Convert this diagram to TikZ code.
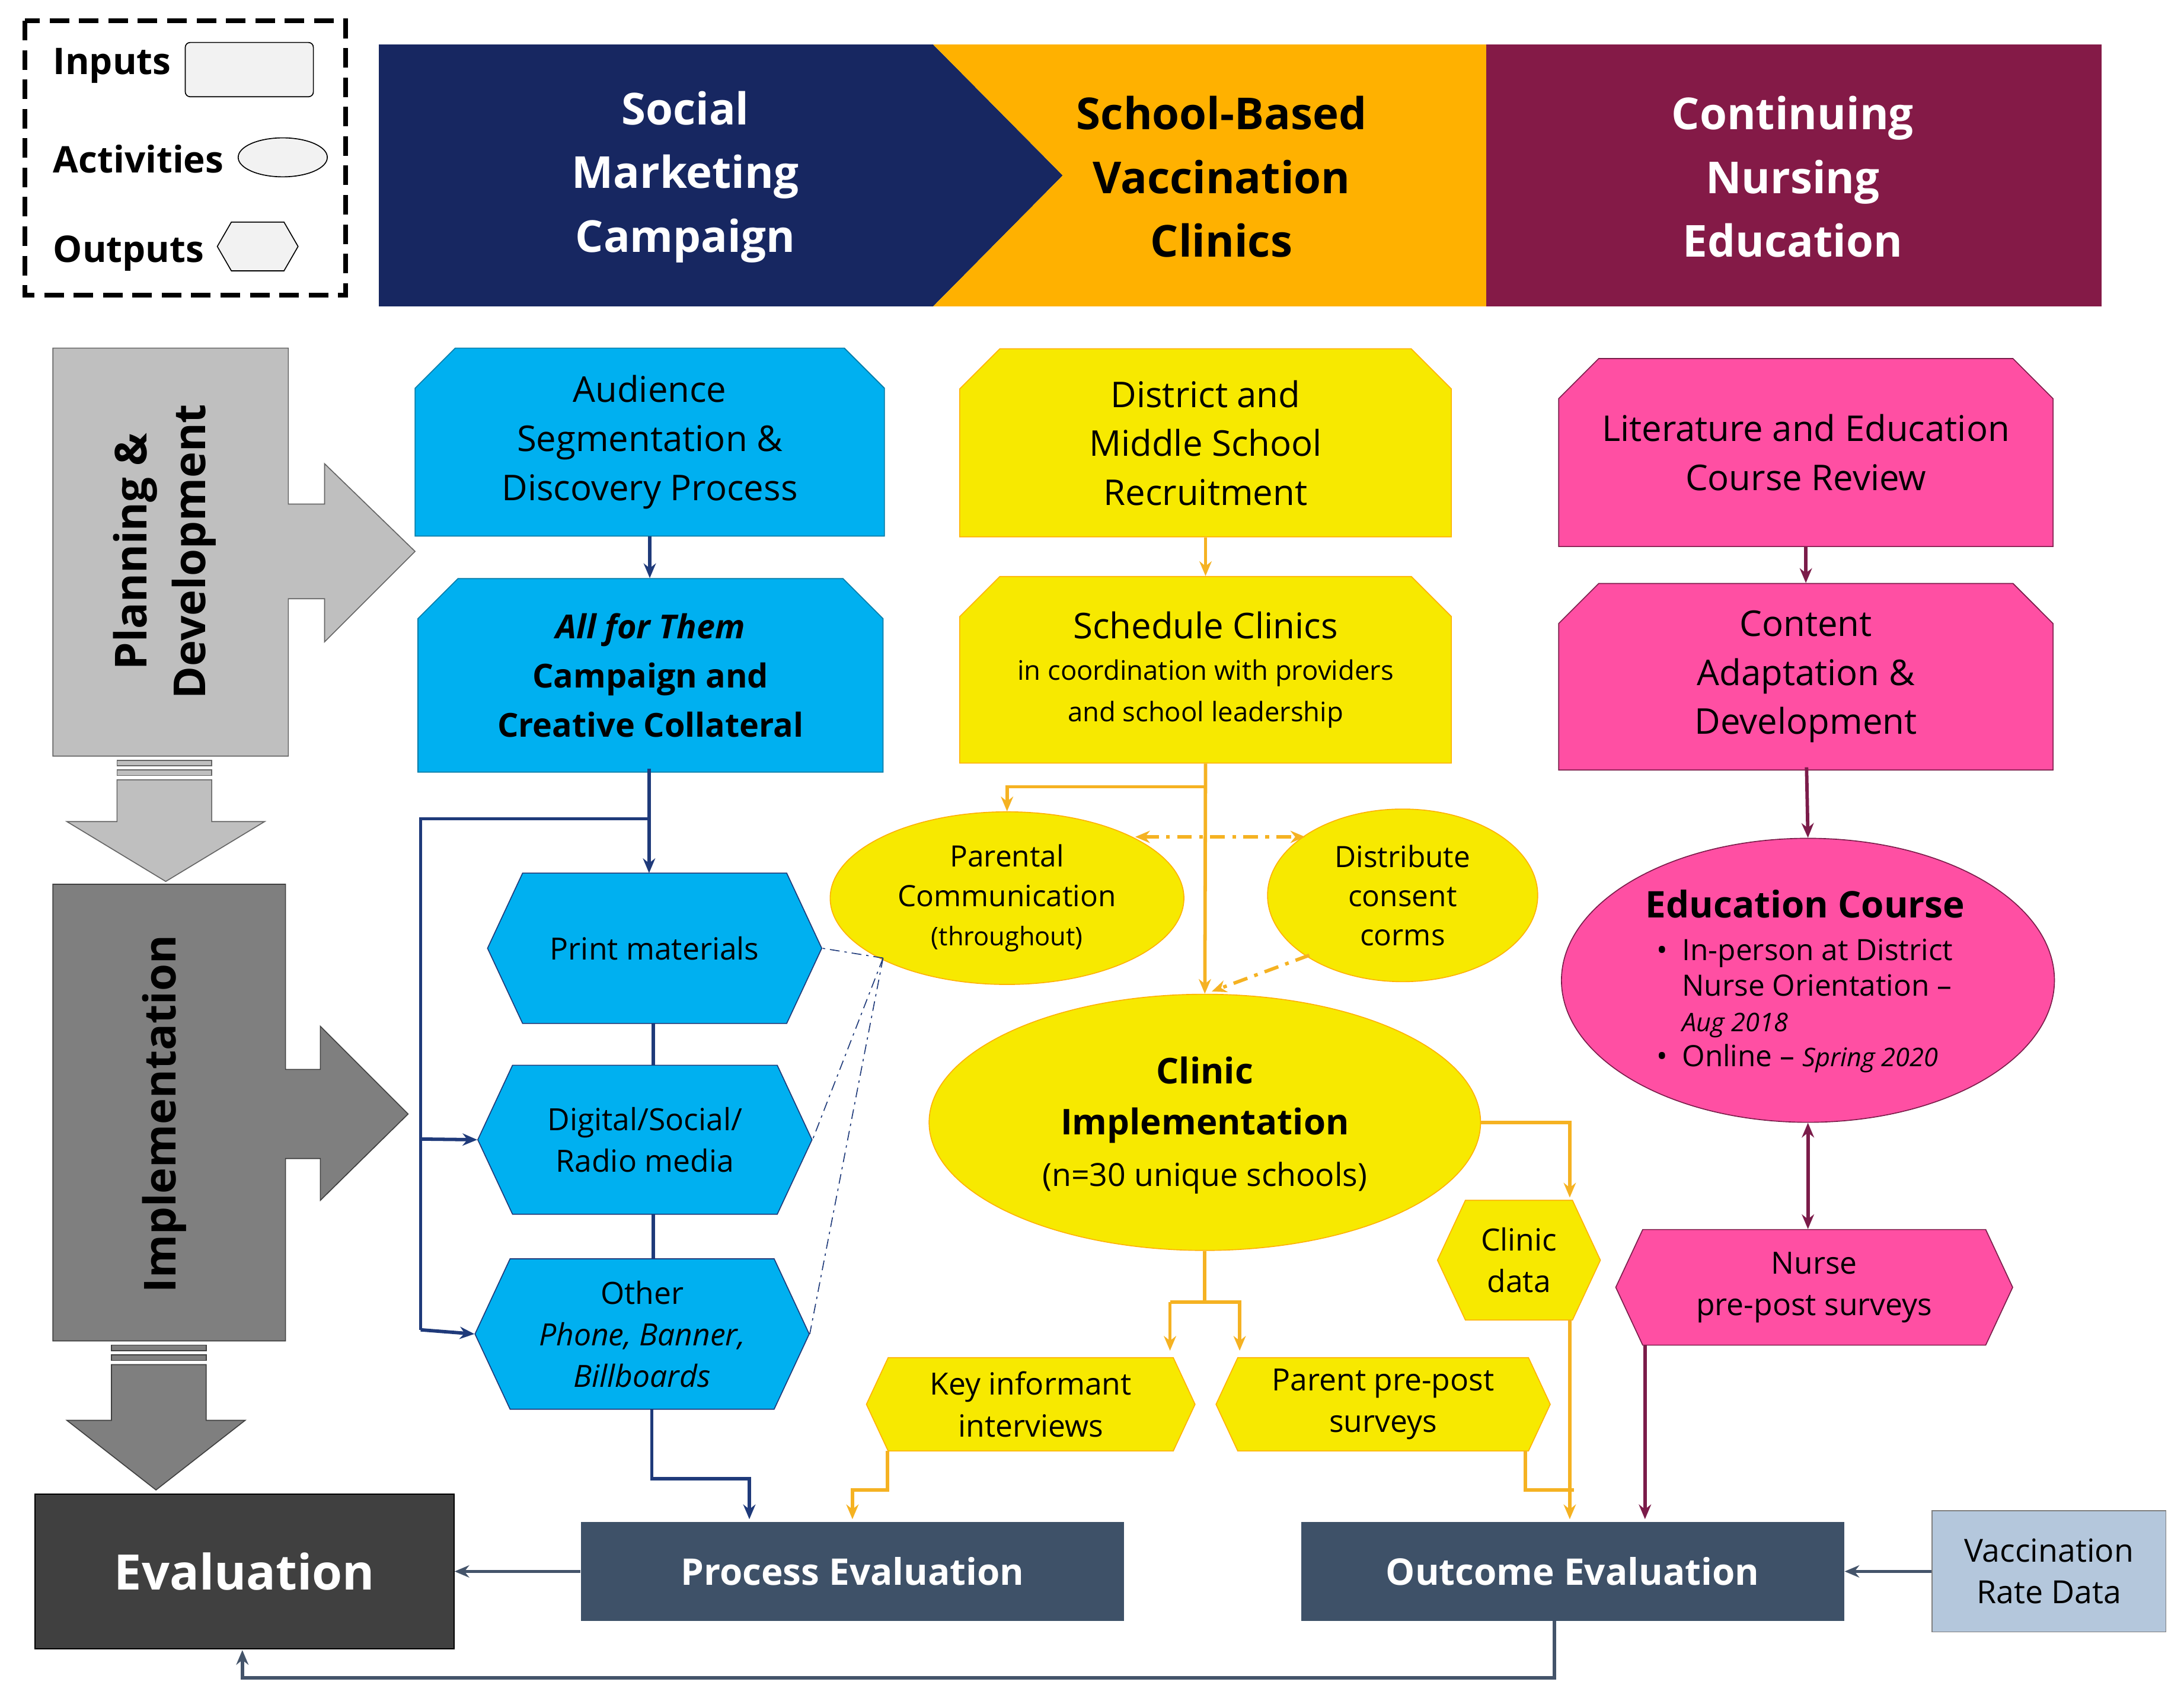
\documentclass[tikz,border=0pt]{standalone}
\usepackage{fontspec}
\setmainfont{Open Sans}
\usetikzlibrary{shapes.misc,shapes.geometric,shapes.symbols,arrows.meta}
\definecolor{navy}{HTML}{172761}
\definecolor{orng}{HTML}{FFB100}
\definecolor{maroon}{HTML}{841A47}
\definecolor{gA}{HTML}{BFBFBF}
\definecolor{gB}{HTML}{7F7F7F}
\definecolor{gC}{HTML}{404040}
\definecolor{blu}{HTML}{00B0F0}
\definecolor{yel}{HTML}{F7E900}
\definecolor{pnk}{HTML}{FF4FA3}
\definecolor{slate}{HTML}{3E5168}
\definecolor{lblue}{HTML}{B4C7DC}
\definecolor{lor}{HTML}{F5B222}
\definecolor{lnav}{HTML}{1F3A7A}
\definecolor{lmar}{HTML}{7B1C4A}
\definecolor{lgr}{HTML}{44546A}
\tikzset{
 inp/.style={chamfered rectangle,chamfered rectangle corners={north west,north east},chamfered rectangle xsep=0.45cm,inner sep=0pt,align=center,font=\fontsize{14.5}{20}\selectfont},
 hex/.style={signal,signal to=east and west,signal pointer angle=130,inner sep=0pt,align=center,font=\fontsize{12.5}{17}\selectfont},
 act/.style={ellipse,inner sep=0pt},
 acttxt/.style={align=center,font=\fontsize{12}{16}\selectfont},
 ar/.style={-{Stealth[length=6pt,width=5pt]}},
 lo/.style={lor,line width=1.4pt},
 ln/.style={lnav,line width=1.4pt},
 lm/.style={lmar,line width=1.4pt},
 lg/.style={lgr,line width=1.4pt},
 head/.style={white,align=center,font=\fontsize{18}{26}\selectfont\bfseries},
 evb/.style={fill=slate,minimum width=7.8cm,minimum height=1.42cm,text=white,font=\fontsize{15}{18}\selectfont\bfseries},
}
\begin{document}
\begin{tikzpicture}[x=0.02cm,y=-0.02cm]
\useasboundingbox (0,0) rectangle (1568,1219);
% legend
\draw[line width=2pt,dash pattern=on 8pt off 4pt] (18,15) rectangle (248,212);
\node[font=\fontsize{15}{18}\selectfont\bfseries,anchor=west] (lgi) at (32,47) {Inputs};
\node[draw,fill=white!95!black,rounded corners=2pt,minimum width=1.84cm,minimum height=0.78cm] (lgr) at (179,50) {};
\node[font=\fontsize{15}{18}\selectfont\bfseries,anchor=west] (lga) at (32,114) {Activities};
\node[draw,fill=white!95!black,ellipse,minimum width=1.28cm,minimum height=0.56cm,inner sep=0pt] (lge) at (203,113) {};
\node[font=\fontsize{15}{18}\selectfont\bfseries,anchor=west] (lgo) at (32,182) {Outputs};
\node[draw,fill=white!95!black,signal,signal to=east and west,signal pointer angle=120,minimum width=1.16cm,minimum height=0.7cm,inner sep=0pt] (lgh) at (185,177) {};
% header
\fill[navy] (272,32) -- (670,32) -- (763,126) -- (670,220) -- (272,220) -- cycle;
\fill[orng] (670,32) -- (1067,32) -- (1067,220) -- (670,220) -- (763,126) -- cycle;
\fill[maroon] (1067,32) rectangle (1509,220);
\node[head] (h1) at (492,127) {Social\\Marketing\\Campaign};
\node[head,text=black] (h2) at (877,127) {School-Based\\Vaccination\\Clinics};
\node[head] (h3) at (1287,127) {Continuing\\Nursing\\Education};
% left arrows
\draw[gB!80!black,fill=gA] (38,250) -- (207,250) -- (207,362) -- (233,362) -- (233,333) -- (298,396) -- (233,461) -- (233,430) -- (207,430) -- (207,543) -- (38,543) -- cycle;
\node[rotate=90,align=center,font=\fontsize{18}{24}\selectfont\bfseries] (pd) at (118,396) {Planning \&\\Development};
\draw[gB!80!black,fill=gA] (84,546) rectangle (152,550);
\draw[gB!80!black,fill=gA] (84,553) rectangle (152,557);
\draw[gB!80!black,fill=gA] (84,560) -- (152,560) -- (152,590) -- (190,590) -- (119,633) -- (48,590) -- (84,590) -- cycle;
\draw[gC,fill=gB] (38,635) -- (205,635) -- (205,768) -- (230,768) -- (230,737) -- (293,800) -- (230,862) -- (230,832) -- (205,832) -- (205,963) -- (38,963) -- cycle;
\node[rotate=90,font=\fontsize{18}{24}\selectfont\bfseries] (im) at (118,800) {Implementation};
\draw[gC,fill=gB] (80,966) rectangle (148,970);
\draw[gC,fill=gB] (80,973) rectangle (148,977);
\draw[gC,fill=gB] (80,980) -- (148,980) -- (148,1020) -- (176,1020) -- (112,1070) -- (48,1020) -- (80,1020) -- cycle;
\node[fill=gC,draw=black,minimum width=6.02cm,minimum height=2.22cm,text=white,font=\fontsize{20}{24}\selectfont\bfseries] (eval) at (175.5,1128.5) {Evaluation};
% blue column
\node[inp,fill=blu,draw=blu!70!black,minimum width=6.74cm,minimum height=2.7cm] (aud) at (466.5,317.5) {Audience\\Segmentation \&\\Discovery Process};
\node[inp,fill=blu,draw=blu!70!black,minimum width=6.68cm,minimum height=2.78cm,font=\fontsize{13.5}{20}\selectfont\bfseries] (all) at (467,485) {\textit{All for Them}\\Campaign and\\Creative Collateral};
\node[hex,fill=blu,draw=lnav,minimum width=4.8cm,minimum height=2.16cm] (print) at (470,681) {Print materials};
\node[hex,fill=blu,draw=lnav,minimum width=4.8cm,minimum height=2.14cm] (dig) at (463,818.5) {Digital/Social/\\Radio media};
\node[hex,fill=blu,draw=lnav,minimum width=4.8cm,minimum height=2.16cm] (oth) at (461,958) {Other\\\textit{Phone, Banner,}\\\textit{Billboards}};
% yellow column
\node[inp,fill=yel,draw=orng,minimum width=7.06cm,minimum height=2.7cm] (dist) at (865.5,318) {District and\\Middle School\\Recruitment};
\node[inp,fill=yel,draw=orng,minimum width=7.06cm,minimum height=2.68cm] (sched) at (865.5,481) {Schedule Clinics\\[-3pt]{\fontsize{11}{15}\selectfont in coordination with providers}\\[-3pt]{\fontsize{11}{15}\selectfont and school leadership}};
\node[act,fill=yel,draw=orng,minimum width=5.08cm,minimum height=2.48cm] (par) at (723,645) {};
\node[acttxt] (part) at (723,645) {Parental\\Communication\\{\fontsize{10.5}{14}\selectfont(throughout)}};
\node[act,fill=yel,draw=orng,minimum width=3.88cm,minimum height=2.48cm] (distr) at (1007,643) {};
\node[acttxt] (distrt) at (1007,643) {Distribute\\consent\\corms};
\node[act,fill=yel,draw=orng,minimum width=7.92cm,minimum height=3.68cm] (clin) at (865,806) {};
\node[align=center,font=\fontsize{14.5}{21}\selectfont] (clint) at (865,808) {\textbf{Clinic}\\\textbf{Implementation}\\{\fontsize{13}{18}\selectfont(n=30 unique schools)}};
\node[hex,fill=yel,draw=orng,minimum width=4.72cm,minimum height=1.34cm] (key) at (740,1008.5) {Key informant\\interviews};
\node[hex,fill=yel,draw=orng,minimum width=4.8cm,minimum height=1.34cm] (ppp) at (993,1008.5) {Parent pre-post\\surveys};
\node[hex,fill=yel,draw=orng,minimum width=2.34cm,minimum height=1.72cm] (cdat) at (1090.5,905) {Clinic\\data};
% pink column
\node[inp,fill=pnk,draw=lmar,minimum width=7.1cm,minimum height=2.7cm] (lit) at (1296.5,325) {Literature and Education\\Course Review};
\node[inp,fill=pnk,draw=lmar,minimum width=7.1cm,minimum height=2.68cm] (cont) at (1296.5,486) {Content\\Adaptation \&\\Development};
\node[act,fill=pnk,draw=lmar,minimum width=7.08cm,minimum height=4.08cm] (edu) at (1298,704) {};
\node[font=\fontsize{15}{18}\selectfont\bfseries] (edut) at (1296,649) {Education Course};
\node[align=left,anchor=north west,font=\fontsize{12}{14.5}\selectfont] (edul) at (1183,668) {\textbullet\hspace{6pt}In-person at District\\\hphantom{\textbullet\hspace{6pt}}Nurse Orientation –\\\hphantom{\textbullet\hspace{6pt}}{\fontsize{10.5}{14}\selectfont\itshape Aug 2018}\\\textbullet\hspace{6pt}Online – {\fontsize{10.5}{14}\selectfont\itshape Spring 2020}};
\node[hex,fill=pnk,draw=lmar,minimum width=5.7cm,minimum height=1.66cm] (nur) at (1302.5,924.5) {Nurse\\pre-post surveys};
% evaluation boxes
\node[evb] (proc) at (612,1128.5) {Process Evaluation};
\node[evb] (outc) at (1129,1128.5) {Outcome Evaluation};
\node[fill=lblue,draw=gB,minimum width=3.36cm,minimum height=1.74cm,align=center,font=\fontsize{13}{17}\selectfont] (vacc) at (1471,1128.5) {Vaccination\\Rate Data};
% navy connectors
\draw[ln,ar] (aud.south) -- (aud.south |- all.north);
\draw[ln,ar] (466,552) -- (466,627);
\draw[ln] (466,560) -- (466,588) -- (302,588) -- (302,955);
\draw[ln,ar] (302,818) -- (dig.west);
\draw[ln,ar] (302,955) -- (oth.west);
\draw[ln] (469,735) -- (469,765);
\draw[ln] (469,872) -- (469,904);
\draw[ln,ar] (468,1012) -- (468,1062) -- (538,1062) -- (538,1091);
\coordinate (pc) at (634,688);
\draw[lnav,dash pattern=on 4pt off 2pt on 1pt off 2pt] (pc) -- (print.east);
\draw[lnav,dash pattern=on 4pt off 2pt on 1pt off 2pt] (pc) -- (dig.east);
\draw[lnav,dash pattern=on 4pt off 2pt on 1pt off 2pt] (pc) -- (oth.east);
% orange connectors
\draw[lo,ar] (dist.south) -- (sched.north);
\draw[lo,ar] (sched.south) -- (clin.north);
\draw[lo,ar] (865,565) -| (par.north);
\draw[lo,dash pattern=on 6pt off 3pt on 1.5pt off 3pt,{Stealth[length=6pt,width=5pt]}-{Stealth[length=6pt,width=5pt]}] (815,601) -- (937,601);
\draw[lo,dash pattern=on 6pt off 3pt on 1.5pt off 3pt,ar] (940,686) -- (870,712);
\draw[lo] (clin.south) -- (865,935);
\draw[lo,ar] (840,935) -- (840,970);
\draw[lo,ar] (840,935) -- (890,935) -- (890,970);
\draw[lo,ar] (637,1042) -- (637,1070) -- (612,1070) -- (612,1091);
\draw[lo] (1095,1042) -- (1095,1070) -- (1130,1070);
\draw[lo,ar] (clin.east) -| (1127,860);
\draw[lo,ar] (1127,948) -- (1127,1091);
% maroon connectors
\draw[lm,ar] (lit.south) -- (cont.north);
\draw[lm,ar] (1297,551) -- (edu.north);
\draw[lm,{Stealth[length=6pt,width=5pt]}-{Stealth[length=6pt,width=5pt]}] (edu.south) -- (nur.north -| edu.south);
\draw[lm,ar] (1181,966) -- (1181,1091);
% evaluation connectors
\draw[lg,ar] (proc.west) -- (eval.east);
\draw[lg,ar] (vacc.west) -- (outc.east);
\draw[lg,ar] (1116,1164) -- (1116,1205) -- (174,1205) -- (174,1185);
\end{tikzpicture}
\end{document}
